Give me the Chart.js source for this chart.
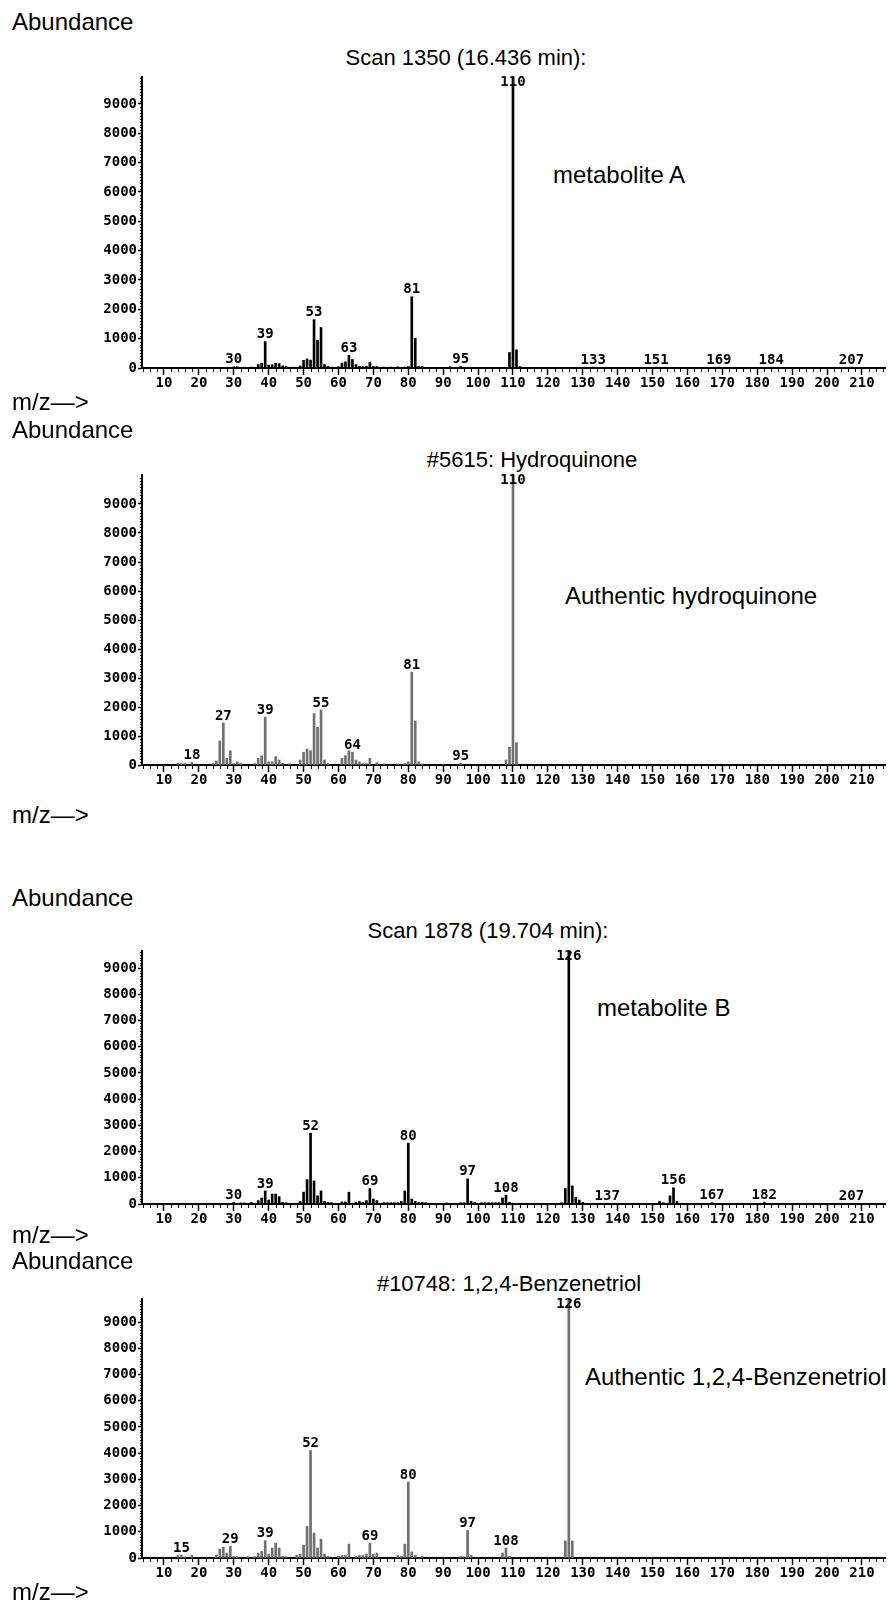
<!DOCTYPE html>
<html>
<head>
<meta charset="utf-8">
<script src="https://cdn.jsdelivr.net/npm/chart.js@4.4.0/dist/chart.umd.min.js"></script>
<style>
  html, body { margin: 0; padding: 0; background: #fff; }
  #page { position: relative; width: 890px; height: 1604px; overflow: hidden;
          font-family: "Liberation Sans", Arial, sans-serif; color: #000; }
  .txt { position: absolute; white-space: nowrap; line-height: 1; }
  .big { font-size: 24px; }
  .note { font-size: 24px; }
  .title { font-size: 22px; transform: translateX(-50%); }
  canvas { position: absolute; left: 0; }
</style>
</head>
<body>
<div id="page">
  <div class="txt big" style="left:12px;top:10px">Abundance</div>
  <div class="txt title" style="left:466px;top:47px">Scan 1350 (16.436 min):</div>
  <div class="txt note" style="left:553px;top:163px">metabolite A</div>
  <canvas id="p1" width="890" height="341" style="top:57px"></canvas>
  <div class="txt big" style="left:12px;top:390px">m/z—&gt;</div>

  <div class="txt big" style="left:12px;top:418px">Abundance</div>
  <div class="txt title" style="left:532px;top:449px">#5615: Hydroquinone</div>
  <div class="txt note" style="left:565px;top:584px">Authentic hydroquinone</div>
  <canvas id="p2" width="890" height="340" style="top:455px"></canvas>
  <div class="txt big" style="left:12px;top:803px">m/z—&gt;</div>

  <div class="txt big" style="left:12px;top:886px">Abundance</div>
  <div class="txt title" style="left:488px;top:920px">Scan 1878 (19.704 min):</div>
  <div class="txt note" style="left:597px;top:996px">metabolite B</div>
  <canvas id="p3" width="890" height="303" style="top:931px"></canvas>
  <div class="txt big" style="left:12px;top:1223px">m/z—&gt;</div>

  <div class="txt big" style="left:12px;top:1249px">Abundance</div>
  <div class="txt title" style="left:509px;top:1273px">#10748: 1,2,4-Benzenetriol</div>
  <div class="txt note" style="left:585px;top:1365px">Authentic 1,2,4-Benzenetriol</div>
  <canvas id="p4" width="890" height="309" style="top:1279px"></canvas>
  <div class="txt big" style="left:12px;top:1580px">m/z—&gt;</div>
</div>

<script>
// tick labels
const xTicks = [10, 20, 30, 40, 50, 60, 70, 80, 90, 100, 110, 120, 130, 140, 150, 160, 170, 180, 190, 200, 210];
const yTicks = [0, 1000, 2000, 3000, 4000, 5000, 6000, 7000, 8000, 9000];

// Scan 1350 (16.436 min) - metabolite A
const mzA = [30, 31, 33, 35, 37, 38, 39, 40, 41, 42, 43, 44, 45, 47, 49, 50, 51, 52, 53, 54, 55, 56, 57, 58,
  60, 61, 62, 63, 64, 65, 66, 67, 68, 69, 70, 71, 73, 75, 77, 79, 80, 81, 82, 83, 84, 86, 92, 95, 97,
  109, 110, 111, 112, 133, 151, 169, 184, 207];
const abA = [40, 40, 30, 30, 120, 160, 900, 100, 110, 160, 150, 70, 50, 30, 70, 260, 310, 270, 1650, 950, 1380, 120, 60, 30,
  40, 170, 210, 430, 290, 120, 60, 50, 60, 200, 50, 50, 30, 30, 40, 30, 50, 2430, 1010, 60, 50, 20, 40, 50, 20,
  530, 9920, 620, 50, 30, 30, 30, 30, 30];
const labA = [30, 39, 53, 63, 81, 95, 110, 133, 151, 169, 184, 207];

// #5615: Hydroquinone (library)
const mzH = [14, 15, 16, 18, 24, 25, 26, 27, 28, 29, 30, 31, 32, 36, 37, 38, 39, 40, 41, 42, 43, 44, 46, 49, 50,
  51, 52, 53, 54, 55, 56, 57, 61, 62, 63, 64, 65, 66, 67, 68, 69, 71, 73, 77, 79, 80, 81, 82, 83, 84, 90, 95,
  108, 109, 110, 111];
const abH = [60, 50, 50, 90, 50, 140, 830, 1450, 230, 490, 50, 110, 50, 50, 230, 320, 1650, 110, 110, 290, 170, 60, 40, 170, 440,
  550, 490, 1770, 1300, 1900, 170, 50, 230, 320, 490, 440, 170, 110, 50, 50, 230, 80, 40, 40, 50, 110, 3200, 1520, 110, 40, 30, 60,
  170, 610, 10000, 770];
const labH = [18, 27, 39, 55, 64, 81, 95, 110];

// Scan 1878 (19.704 min) - metabolite B
const mzB = [30, 32, 33, 35, 37, 38, 39, 40, 41, 42, 43, 44, 45, 49, 50, 51, 52, 53, 54, 55, 56, 57, 58, 61, 62, 63,
  65, 66, 67, 68, 69, 70, 71, 73, 74, 75, 76, 77, 78, 79, 80, 81, 82, 83, 84, 85, 91, 95, 96, 97, 98, 99,
  101, 102, 103, 104, 105, 106, 107, 108, 109, 110, 124, 125, 126, 127, 128, 129, 130, 137,
  152, 153, 155, 156, 157, 167, 182, 207];
const abB = [60, 40, 40, 60, 130, 230, 500, 150, 380, 380, 280, 60, 50, 100, 450, 930, 2700, 880, 310, 500, 100, 60, 50, 80, 80, 450,
  60, 100, 60, 130, 590, 190, 130, 50, 50, 50, 50, 50, 100, 500, 2320, 190, 100, 60, 60, 50, 40, 50, 50, 960, 100, 60,
  50, 50, 50, 50, 50, 50, 230, 340, 60, 30, 50, 590, 9650, 690, 250, 150, 60, 30,
  100, 50, 310, 620, 100, 50, 60, 30];
const labB = [30, 39, 52, 69, 80, 97, 108, 126, 137, 156, 167, 182, 207];

// #10748: 1,2,4-Benzenetriol (library)
const mzT = [14, 15, 16, 18, 25, 26, 27, 28, 29, 30, 31, 34, 36, 37, 38, 39, 40, 41, 42, 43, 44, 45, 48, 49, 50,
  51, 52, 53, 54, 55, 56, 57, 60, 61, 62, 63, 65, 66, 67, 68, 69, 70, 71, 77, 78, 79, 80, 81, 82, 84,
  95, 96, 97, 98, 107, 108, 109, 125, 126, 127];
const abT = [100, 100, 40, 100, 100, 340, 410, 190, 440, 60, 50, 50, 50, 190, 250, 660, 150, 380, 570, 380, 60, 50, 100, 150, 490,
  1200, 4100, 950, 380, 720, 150, 60, 60, 100, 100, 530, 60, 100, 100, 150, 570, 150, 190, 100, 60, 530, 2900, 230, 100, 60,
  60, 50, 1050, 100, 190, 380, 60, 650, 9880, 650];
const labT = [15, 29, 39, 52, 69, 80, 97, 108, 126];

const monoFont = { family: '"DejaVu Sans Mono", "Liberation Mono", monospace', size: 14, weight: 'bold' };

function makePanel(id, mz, ab, peakLabels, yMax, barColor) {
  const canvas = document.getElementById(id);
  const ctx = canvas.getContext('2d');

  // peak m/z numbers above the lines
  const peakText = {
    id: 'peakText',
    afterDatasetsDraw(chart) {
      const { ctx, chartArea } = chart;
      const meta = chart.getDatasetMeta(0);
      ctx.save();
      ctx.font = 'bold 14px "DejaVu Sans Mono", monospace';
      ctx.fillStyle = '#000';
      ctx.textAlign = 'center';
      ctx.textBaseline = 'middle';
      peakLabels.forEach(m => {
        const i = mz.indexOf(m);
        if (i < 0) return;
        const bar = meta.data[i];
        const y = Math.max(bar.y - 7, chartArea.top + 5);
        ctx.fillText(String(m), bar.x, y);
      });
      ctx.restore();
    }
  };

  // small ticks between the labelled ones
  const minorTicks = {
    id: 'minorTicks',
    afterDraw(chart) {
      const { ctx, chartArea, scales } = chart;
      ctx.save();
      ctx.strokeStyle = '#000';
      ctx.lineWidth = 1;
      ctx.beginPath();
      for (let v = 4; v <= scales.x.max; v += 2) {
        if (v % 10 === 0) continue;
        const px = Math.round(scales.x.getPixelForValue(v)) + 0.5;
        ctx.moveTo(px, chartArea.bottom);
        ctx.lineTo(px, chartArea.bottom + 4);
      }
      for (let v = 100; v <= scales.y.max; v += 100) {
        if (v % 1000 === 0) continue;
        const py = Math.round(scales.y.getPixelForValue(v)) + 0.5;
        ctx.moveTo(chartArea.left - 2, py);
        ctx.lineTo(chartArea.left, py);
      }
      ctx.stroke();
      ctx.restore();
    }
  };

  return new Chart(ctx, {
    type: 'bar',
    data: {
      datasets: [{
        data: mz.map((m, i) => ({ x: m, y: ab[i] })),
        backgroundColor: barColor,
        borderWidth: 0,
        barThickness: 2
      }]
    },
    options: {
      responsive: false,
      animation: false,
      devicePixelRatio: 1,
      layout: { padding: { top: 20, left: 0, right: 5, bottom: 0 } },
      plugins: { legend: { display: false }, tooltip: { enabled: false } },
      scales: {
        x: {
          type: 'linear',
          min: 3.7,
          max: 216.6,
          offset: false,
          afterFit(scale) { scale.height = 30; },
          afterBuildTicks(scale) { scale.ticks = xTicks.map(v => ({ value: v })); },
          grid: { offset: false, drawOnChartArea: false, drawTicks: true, tickLength: 7, tickColor: '#000', tickWidth: 1.5 },
          border: { display: true, color: '#000', width: 2 },
          ticks: { font: monoFont, color: '#000', padding: 0, maxRotation: 0, autoSkip: false, callback: v => String(v) }
        },
        y: {
          min: 0,
          max: yMax,
          afterFit(scale) { scale.width = 142; },
          afterBuildTicks(scale) { scale.ticks = yTicks.map(v => ({ value: v })); },
          grid: { drawOnChartArea: false, drawTicks: true, tickLength: 4, tickColor: '#000', tickWidth: 1.5 },
          border: { display: true, color: '#000', width: 2 },
          ticks: { font: monoFont, color: '#000', padding: 1, callback: v => String(v) }
        }
      }
    },
    plugins: [peakText, minorTicks]
  });
}

makePanel('p1', mzA, abA, labA, 9920, '#000');
makePanel('p2', mzH, abH, labH, 10000, '#707070');
makePanel('p3', mzB, abB, labB, 9650, '#000');
makePanel('p4', mzT, abT, labT, 9880, '#707070');
</script>
</body>
</html>
